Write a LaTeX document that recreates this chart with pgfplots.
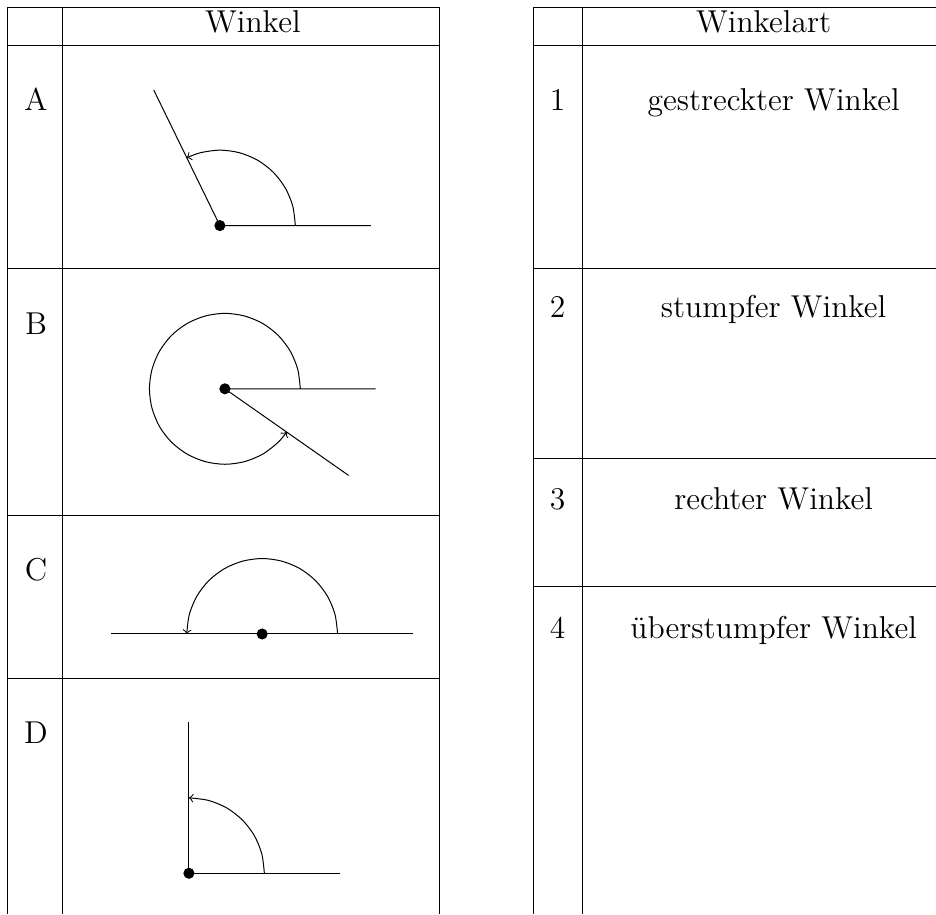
\documentclass[border=0pt]{standalone}
\usepackage{pgfplots}
\pgfplotsset{compat=1.18}

\begin{document}
\begin{tikzpicture}[font=\fontsize{12.65}{15}\selectfont]
  % one axis in pixel units (y downwards), 1px = 0.4pt
  \begin{axis}[
      width=374.4pt, height=365.6pt, scale only axis,
      xmin=0, xmax=936, ymin=0, ymax=914, y dir=reverse,
      axis lines=none, clip=false,
      cycle list={{black, solid, line width=0.4pt, mark=none}},
    ]
    \addplot[draw=none] coordinates {(0,0) (936,914)};

    % left table
    \addplot coordinates {(8,7) (440,7)};
    \addplot coordinates {(8,46) (440,46)};
    \addplot coordinates {(8,269) (440,269)};
    \addplot coordinates {(8,516) (440,516)};
    \addplot coordinates {(8,679) (440,679)};
    \addplot coordinates {(8,7) (8,914)};
    \addplot coordinates {(63,7) (63,914)};
    \addplot coordinates {(440,7) (440,914)};

    % right table
    \addplot coordinates {(534,7) (936,7)};
    \addplot coordinates {(534,46) (936,46)};
    \addplot coordinates {(534,269) (936,269)};
    \addplot coordinates {(534,459) (936,459)};
    \addplot coordinates {(534,587) (936,587)};
    \addplot coordinates {(534,7) (534,914)};
    \addplot coordinates {(583,7) (583,914)};

    % A: 116 deg
    \addplot coordinates {(371,225.7) (220,225.7) (153.8,90.0)};
    \addplot[black, line width=0.4pt, smooth, ->] coordinates {
      (295.5,225.7) (292.9,206.2) (285.4,188.0) (273.4,172.3) (257.8,160.3)
      (239.5,152.8) (220,150.2) (200.5,152.8) (186.9,157.8)};

    % B: 325 deg
    \addplot coordinates {(375.7,389) (225,389) (348.7,475.6)};
    \addplot[black, line width=0.4pt, smooth, ->] coordinates {
      (300.5,389) (297.9,369.5) (290.4,351.3) (278.4,335.6) (262.8,323.6)
      (244.5,316.1) (225,313.5) (205.5,316.1) (187.3,323.6) (171.6,335.6)
      (159.6,351.3) (152.1,369.5) (149.5,389) (152.1,408.5) (159.6,426.8)
      (171.6,442.4) (187.3,454.4) (205.5,461.9) (225,464.5) (244.5,461.9)
      (262.8,454.4) (278.4,442.4) (286.8,432.3)};

    % C: 180 deg
    \addplot coordinates {(111.3,634.3) (413.3,634.3)};
    \addplot[black, line width=0.4pt, smooth, ->] coordinates {
      (337.8,634.3) (335.2,614.8) (327.7,596.6) (315.7,580.9) (300.1,568.9)
      (281.8,561.4) (262.3,558.8) (242.8,561.4) (224.6,568.9) (208.9,580.9)
      (196.9,596.6) (189.4,614.8) (186.8,634.3)};

    % D: 90 deg
    \addplot coordinates {(340,873.7) (189,873.7) (189,722.5)};
    \addplot[black, line width=0.4pt, smooth, ->] coordinates {
      (264.5,873.7) (261.9,854.2) (254.4,835.9) (242.4,820.3) (226.8,808.3)
      (208.5,800.8) (189,798.2)};

    % vertices
    \addplot[black, only marks, mark=*, mark size=2pt] coordinates {
      (220,225.7) (225,389) (262.3,634.3) (189,873.7)};

    % texts
    \node[anchor=base] at (axis cs:253,33) {Winkel};
    \node[anchor=base] at (axis cs:764,33) {Winkelart};
    \node[anchor=base] at (axis cs:36,111) {A};
    \node[anchor=base] at (axis cs:36,335) {B};
    \node[anchor=base] at (axis cs:36,581) {C};
    \node[anchor=base] at (axis cs:36,744) {D};
    \node[anchor=base] at (axis cs:558,111) {1};
    \node[anchor=base] at (axis cs:558,318) {2};
    \node[anchor=base] at (axis cs:558,510) {3};
    \node[anchor=base] at (axis cs:558,639) {4};
    \node[anchor=base] at (axis cs:774,111) {gestreckter Winkel};
    \node[anchor=base] at (axis cs:774,318) {stumpfer Winkel};
    \node[anchor=base] at (axis cs:774,510) {rechter Winkel};
    \node[anchor=base] at (axis cs:774,639) {überstumpfer Winkel};
  \end{axis}
\end{tikzpicture}
\end{document}
